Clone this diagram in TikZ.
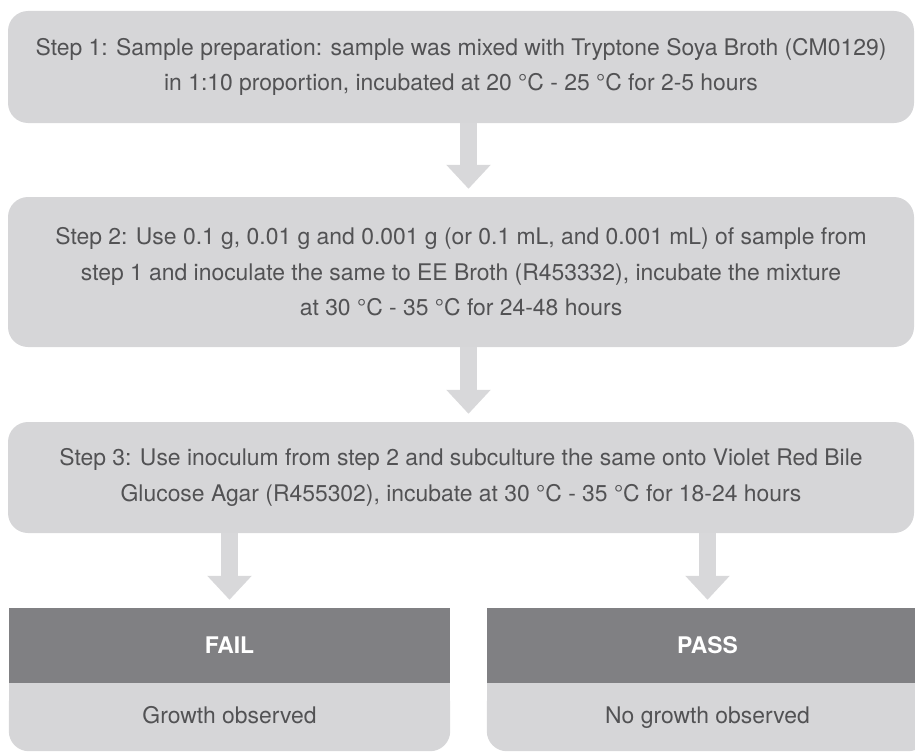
\documentclass[tikz,border=0pt]{standalone}
\usepackage{fontspec}
\setmainfont{TeX Gyre Heros}
\usetikzlibrary{arrows.meta,backgrounds}
\definecolor{boxgray}{HTML}{D6D6D8}
\definecolor{arrgray}{HTML}{D8D8DA}
\definecolor{headgray}{HTML}{808083}
\definecolor{txtgray}{HTML}{525254}
\tikzset{
  stepbox/.style={fill=boxgray, rounded corners=20pt, minimum width=906pt, align=center,
    text=txtgray, font=\fontsize{22.9}{35.5}\selectfont, inner sep=0pt},
  headbox/.style={fill=headgray, minimum width=441pt, minimum height=75pt, inner sep=0pt,
    text height=16.5pt, text depth=0pt, text=white, font=\fontsize{22.9}{26}\selectfont\bfseries},
  bodybox/.style={minimum width=441pt, minimum height=68pt, inner sep=0pt,
    text height=16.5pt, text depth=4.5pt, text=txtgray, font=\fontsize{22.9}{26}\selectfont},
  flowarrow/.style={draw=arrgray, line width=17pt, -{Triangle[width=43pt,length=24pt]},
    arrgray, shorten >=8pt}
}
\begin{document}
\begin{tikzpicture}[x=1pt,y=-1pt]
\useasboundingbox (0,0) rectangle (915,752);
\node[stepbox, minimum height=112pt] (s1) at (461,67)
  {Step 1: Sample preparation: sample was mixed with Tryptone Soya Broth (CM0129)\\
   in 1:10 proportion, incubated at 20 °C - 25 °C for 2-5 hours};
\node[stepbox, minimum height=150pt] (s2) at (461,272)
  {Step 2: Use 0.1 g, 0.01 g and 0.001 g (or 0.1 mL, and 0.001 mL) of sample from\\
   step 1 and inoculate the same to EE Broth (R453332), incubate the mixture\\
   at 30 °C - 35 °C for 24-48 hours};
\node[stepbox, minimum height=111pt] (s3) at (461,477.5)
  {Step 3: Use inoculum from step 2 and subculture the same onto Violet Red Bile\\
   Glucose Agar (R455302), incubate at 30 °C - 35 °C for 18-24 hours};
% FAIL
\node[bodybox] (failbody) at (229.5,717) {Growth observed};
\node[headbox] (failhead) at (229.5,645.5) {FAIL};
% PASS
\node[bodybox] (passbody) at (707.5,717) {No growth observed};
\node[headbox] (passhead) at (707.5,645.5) {PASS};
\begin{scope}[on background layer]
  \fill[boxgray, rounded corners=20pt] (failbody.north west) rectangle (failbody.south east);
  \fill[boxgray] (failbody.north west) rectangle (failbody.east);
  \fill[boxgray, rounded corners=20pt] (passbody.north west) rectangle (passbody.south east);
  \fill[boxgray] (passbody.north west) rectangle (passbody.east);
\end{scope}
% arrows
\draw[flowarrow] (s1.south -| 468.5,0) -- (s2.north -| 468.5,0);
\draw[flowarrow] (s2.south -| 468.5,0) -- (s3.north -| 468.5,0);
\draw[flowarrow] (s3.south -| failhead.north) -- (failhead.north);
\draw[flowarrow] (s3.south -| passhead.north) -- (passhead.north);
\end{tikzpicture}
\end{document}
